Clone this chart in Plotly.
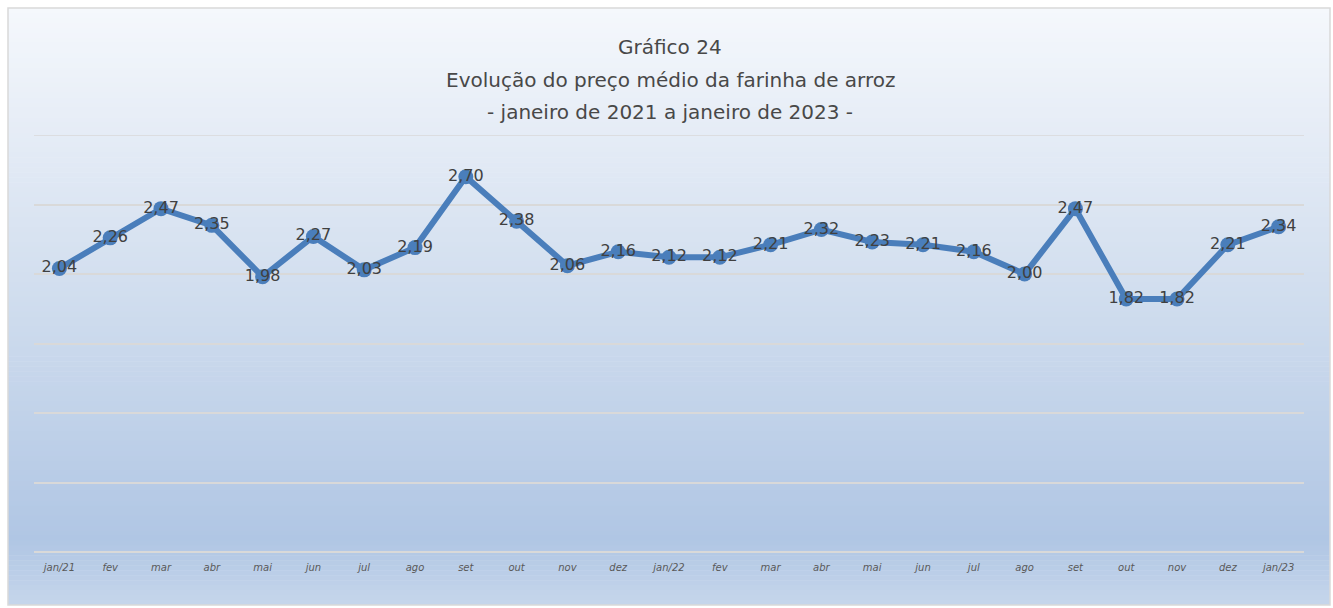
import plotly.graph_objects as go

months = ["jan/21", "fev", "mar", "abr", "mai", "jun", "jul", "ago", "set", "out", "nov", "dez",
          "jan/22", "fev", "mar", "abr", "mai", "jun", "jul", "ago", "set", "out", "nov", "dez", "jan/23"]
prices = [2.04, 2.26, 2.47, 2.35, 1.98, 2.27, 2.03, 2.19, 2.70, 2.38, 2.06, 2.16,
          2.12, 2.12, 2.21, 2.32, 2.23, 2.21, 2.16, 2.00, 2.47, 1.82, 1.82, 2.21, 2.34]
xidx = list(range(len(months)))

W, H = 1333, 608
L, R, T, B = 34, 29, 135, 56
pw, ph = W - L - R, H - T - B
FONT = "DejaVu Sans"

def px2paper_x(x):
    return (x - L) / pw

def px2paper_y(y):
    return (H - B - y) / ph

stops = [(8, (245, 248, 252)), (135, (229, 236, 246)), (300, (208, 221, 238)),
         (540, (176, 198, 228)), (605, (198, 214, 235))]

def color_at(y):
    for (y0, c0), (y1, c1) in zip(stops, stops[1:]):
        if y0 <= y <= y1:
            t = (y - y0) / (y1 - y0)
            return "rgb(%d,%d,%d)" % tuple(round(a + (b - a) * t) for a, b in zip(c0, c1))
    return "rgb(%d,%d,%d)" % stops[-1][1]

shapes = []
n = 120
top, bot = 8, 605
step = (bot - top) / n
for i in range(n):
    y0 = top + i * step
    y1 = y0 + step + 0.6
    shapes.append(dict(type="rect", xref="paper", yref="paper", layer="below",
                       x0=px2paper_x(8), x1=px2paper_x(1330),
                       y0=px2paper_y(min(y1, bot)), y1=px2paper_y(y0),
                       line=dict(width=0), fillcolor=color_at(y0 + step / 2)))
shapes.append(dict(type="rect", xref="paper", yref="paper", layer="below",
                   x0=px2paper_x(8), x1=px2paper_x(1330),
                   y0=px2paper_y(605), y1=px2paper_y(8),
                   line=dict(width=1.5, color="#d9d9d9"), fillcolor="rgba(0,0,0,0)"))
# top gridline (3.0) which plotly omits at the range edge
shapes.append(dict(type="line", xref="paper", yref="y", layer="below",
                   x0=0, x1=1, y0=3.0, y1=3.0, line=dict(width=1.5, color="#d9d9d9")))

fig = go.Figure()
fig.add_trace(go.Scatter(
    x=xidx, y=prices, mode="lines+markers+text",
    line=dict(color="#4a7ebb", width=6),
    marker=dict(color="#4a7ebb", size=15),
    text=[f"{v:.2f}".replace(".", ",") for v in prices],
    textposition="middle center",
    textfont=dict(family=FONT, size=16, color="#404040"),
    cliponaxis=False, hoverinfo="skip", showlegend=False,
))

title_font = dict(family=FONT, size=20, color="#484848")
fig.update_layout(
    width=W, height=H,
    margin=dict(l=L, r=R, t=T, b=B),
    paper_bgcolor="white", plot_bgcolor="rgba(0,0,0,0)",
    shapes=shapes,
    annotations=[
        dict(text="Gráfico 24", xref="paper", yref="paper", x=px2paper_x(670), y=px2paper_y(47),
             showarrow=False, font=title_font, xanchor="center", yanchor="middle"),
        dict(text="Evolução do preço médio da farinha de arroz", xref="paper", yref="paper",
             x=px2paper_x(670), y=px2paper_y(80), showarrow=False,
             font=title_font, xanchor="center", yanchor="middle"),
        dict(text="- janeiro de 2021 a janeiro de 2023 -", xref="paper", yref="paper",
             x=px2paper_x(670), y=px2paper_y(112), showarrow=False,
             font=title_font, xanchor="center", yanchor="middle"),
    ],
    xaxis=dict(range=[-0.5, len(months) - 0.5], tickmode="array", tickvals=xidx, ticktext=months,
               showgrid=False, zeroline=False, showline=False, ticks="", ticklabelstandoff=8,
               tickfont=dict(family=FONT, size=10, color="#595959", style="italic")),
    yaxis=dict(range=[0, 3.0], tickmode="array", tickvals=[0.5, 1.0, 1.5, 2.0, 2.5, 3.0],
               showticklabels=False, showgrid=True,
               gridcolor="#d9d9d9", gridwidth=1.5, zeroline=True, zerolinecolor="#d9d9d9",
               zerolinewidth=1.5, showline=False, ticks=""),
)
fig.write_html("out.html", config={"displayModeBar": False},
               post_script="document.body.style.margin='0';document.body.style.overflow='hidden';")
